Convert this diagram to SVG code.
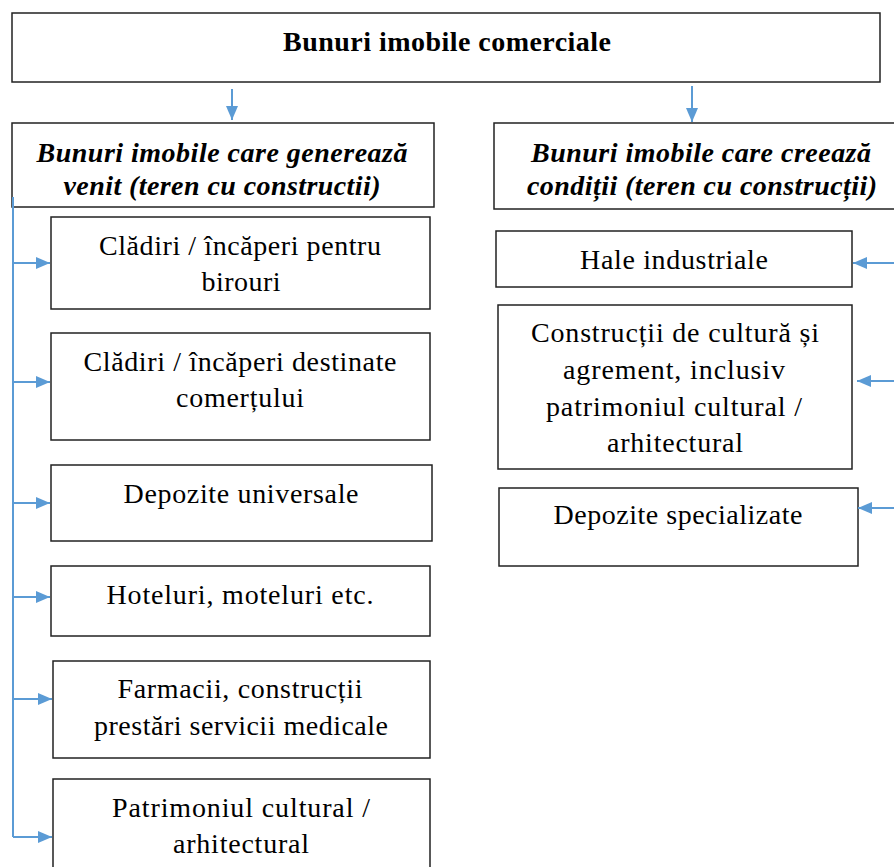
<svg xmlns="http://www.w3.org/2000/svg" width="894" height="867" viewBox="0 0 894 867">
<style>
  .box { fill: #ffffff; stroke: #222222; stroke-width: 1.5; }
  .con { stroke: #5B9BD5; stroke-width: 2; fill: none; }
</style>
<defs>
  <marker id="arr" markerUnits="userSpaceOnUse" markerWidth="14" markerHeight="12" refX="14" refY="6" orient="auto">
    <path d="M0,0 L14,6 L0,12 Z" fill="#5B9BD5"/>
  </marker>
</defs>
<rect width="894" height="867" fill="#ffffff"/>

<g id="root">
  <rect class="box" x="12" y="13" width="868" height="69"/>
  <text x="447" y="51" font-family="Liberation Serif" font-size="28" font-weight="bold" text-anchor="middle" textLength="328">Bunuri imobile comerciale</text>
</g>

<g id="left-head" font-family="Liberation Serif" font-size="28" font-weight="bold" font-style="italic" text-anchor="middle">
  <rect class="box" x="12" y="123" width="422" height="84"/>
  <text x="222" y="162" font-family="Liberation Serif" textLength="371">Bunuri imobile care generează</text>
  <text x="222" y="195" font-family="Liberation Serif" textLength="317">venit (teren cu constructii)</text>
</g>

<g id="right-head" font-family="Liberation Serif" font-size="28" font-weight="bold" font-style="italic" text-anchor="middle">
  <rect class="box" x="494" y="123" width="410" height="86"/>
  <text x="701" y="162" font-family="Liberation Serif" textLength="340">Bunuri imobile care creează</text>
  <text x="702" y="195" font-family="Liberation Serif" textLength="350">condiții (teren cu construcții)</text>
</g>

<g id="l1" font-family="Liberation Serif" font-size="28" text-anchor="middle">
  <rect class="box" x="51" y="217" width="379" height="92"/>
  <text x="240" y="255" font-family="Liberation Serif" textLength="282">Clădiri / încăperi pentru</text>
  <text x="241" y="291" font-family="Liberation Serif" textLength="79">birouri</text>
</g>
<g id="l2" font-family="Liberation Serif" font-size="28" text-anchor="middle">
  <rect class="box" x="51" y="333" width="379" height="107"/>
  <text x="240" y="371" font-family="Liberation Serif" textLength="313">Clădiri / încăperi destinate</text>
  <text x="240" y="407" font-family="Liberation Serif" textLength="128">comerțului</text>
</g>
<g id="l3" font-family="Liberation Serif" font-size="28" text-anchor="middle">
  <rect class="box" x="51" y="465" width="381" height="76"/>
  <text x="241" y="503" font-family="Liberation Serif" textLength="235">Depozite universale</text>
</g>
<g id="l4" font-family="Liberation Serif" font-size="28" text-anchor="middle">
  <rect class="box" x="51" y="566" width="379" height="70"/>
  <text x="240" y="604" font-family="Liberation Serif" textLength="267">Hoteluri, moteluri etc.</text>
</g>
<g id="l5" font-family="Liberation Serif" font-size="28" text-anchor="middle">
  <rect class="box" x="53" y="661" width="377" height="97"/>
  <text x="240" y="698" font-family="Liberation Serif" textLength="245">Farmacii, construcții</text>
  <text x="241" y="735" font-family="Liberation Serif" textLength="294">prestări servicii medicale</text>
</g>
<g id="l6" font-family="Liberation Serif" font-size="28" text-anchor="middle">
  <rect class="box" x="53" y="779" width="377" height="100"/>
  <text x="241" y="817" font-family="Liberation Serif" textLength="258">Patrimoniul cultural /</text>
  <text x="241" y="853" font-family="Liberation Serif" textLength="136">arhitectural</text>
</g>

<g id="r1" font-family="Liberation Serif" font-size="28" text-anchor="middle">
  <rect class="box" x="496" y="231" width="356" height="56"/>
  <text x="674" y="269" font-family="Liberation Serif" textLength="188">Hale industriale</text>
</g>
<g id="r2" font-family="Liberation Serif" font-size="28" text-anchor="middle">
  <rect class="box" x="498" y="305" width="354" height="164"/>
  <text x="675" y="342" font-family="Liberation Serif" textLength="288">Construcții de cultură și</text>
  <text x="674" y="379" font-family="Liberation Serif" textLength="222">agrement, inclusiv</text>
  <text x="674" y="416" font-family="Liberation Serif" textLength="256">patrimoniul cultural /</text>
  <text x="675" y="452" font-family="Liberation Serif" textLength="136">arhitectural</text>
</g>
<g id="r3" font-family="Liberation Serif" font-size="28" text-anchor="middle">
  <rect class="box" x="499" y="488" width="359" height="78"/>
  <text x="678" y="524" font-family="Liberation Serif" textLength="249">Depozite specializate</text>
</g>

<g id="connectors">
  <line class="con" x1="232" y1="89" x2="232" y2="120" marker-end="url(#arr)"/>
  <line class="con" x1="692" y1="86" x2="692" y2="122" marker-end="url(#arr)"/>
  <line class="con" x1="13" y1="197" x2="13" y2="837"/>
  <line class="con" x1="13" y1="263" x2="50" y2="263" marker-end="url(#arr)"/>
  <line class="con" x1="13" y1="382" x2="50" y2="382" marker-end="url(#arr)"/>
  <line class="con" x1="13" y1="503" x2="50" y2="503" marker-end="url(#arr)"/>
  <line class="con" x1="13" y1="597" x2="50" y2="597" marker-end="url(#arr)"/>
  <line class="con" x1="13" y1="699" x2="52" y2="699" marker-end="url(#arr)"/>
  <line class="con" x1="13" y1="837" x2="52" y2="837" marker-end="url(#arr)"/>
  <line class="con" x1="894" y1="263" x2="853" y2="263" marker-end="url(#arr)"/>
  <line class="con" x1="894" y1="381" x2="857" y2="381" marker-end="url(#arr)"/>
  <line class="con" x1="894" y1="508" x2="858" y2="508" marker-end="url(#arr)"/>
</g>
</svg>
